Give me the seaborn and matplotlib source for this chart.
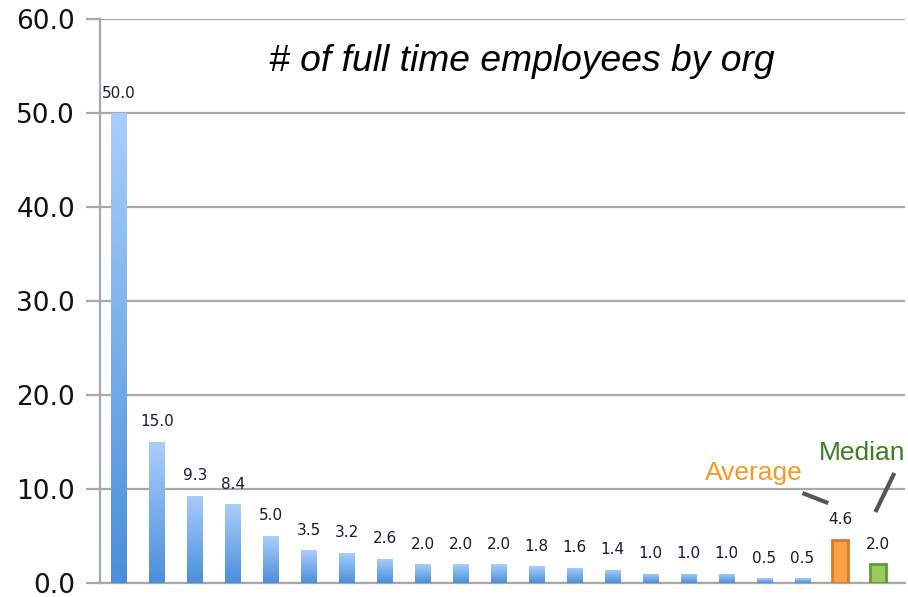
import numpy as np
import pandas as pd
import matplotlib
matplotlib.use("Agg")
import matplotlib.pyplot as plt
import seaborn as sns
from matplotlib.colors import LinearSegmentedColormap

# ---- data ----
orgs = [f"Org {i}" for i in range(1, 20)] + ["Average", "Median"]
employees = [50.0, 15.0, 9.3, 8.4, 5.0, 3.5, 3.2, 2.6, 2.0, 2.0, 2.0,
             1.8, 1.6, 1.4, 1.0, 1.0, 1.0, 0.5, 0.5, 4.6, 2.0]
yticks = [0, 10, 20, 30, 40, 50, 60]
title = "# of full time employees by org"

df = pd.DataFrame({"org": orgs, "employees": employees})

blue_top = "#a9cefb"
blue_bottom = "#4a8fdb"
avg_face, avg_edge = "#f9a040", "#d77a2c"
med_face, med_edge = "#9cc95c", "#5f9a36"

palette = {o: blue_bottom for o in orgs}
palette["Average"] = avg_face
palette["Median"] = med_face

sns.set_theme(style="white")
fig = plt.figure(figsize=(9.08, 5.97), dpi=100)
ax = fig.add_axes([100 / 908, 14 / 597, 805 / 908, 564 / 597])

sns.barplot(data=df, x="org", y="employees", hue="org", palette=palette,
            width=0.42, legend=False, ax=ax, saturation=1, zorder=3)

ax.set_ylim(0, 60)
ax.set_xlim(-0.5, len(orgs) - 0.3)

cmap = LinearSegmentedColormap.from_list("bl", [blue_bottom, blue_top])
grad = np.linspace(0, 1, 256).reshape(-1, 1)
for patch, org in zip(ax.patches, orgs):
    x0, y0 = patch.get_x(), patch.get_y()
    w, h = patch.get_width(), patch.get_height()
    if org == "Average":
        patch.set_edgecolor(avg_edge)
        patch.set_linewidth(2)
    elif org == "Median":
        patch.set_edgecolor(med_edge)
        patch.set_linewidth(2)
    else:
        patch.set_linewidth(0)
        im = ax.imshow(grad, cmap=cmap, origin="lower", aspect="auto",
                       extent=[x0, x0 + w, y0, y0 + h], zorder=4)
        im.set_clip_path(patch)
    ax.annotate(f"{h:.1f}", (x0 + w / 2, h), xytext=(0, 9),
                textcoords="offset points", ha="center", va="bottom",
                fontsize=11, color="#1a1a2a", zorder=6)

ax.set_xlim(-0.5, len(orgs) - 0.3)
ax.set_ylim(0, 60)

# grid and axes
ax.set_yticks(yticks)
ax.set_yticklabels([f"{v:.1f}" for v in yticks], fontsize=19, color="#111111")
ax.yaxis.grid(True, color="#a8a8a8", linewidth=1.6, zorder=0)
ax.set_axisbelow(True)
ax.tick_params(axis="y", length=10, width=1.6, color="#a8a8a8", pad=8, left=True)
ax.set_xticks([])
ax.set_xlabel("")
ax.set_ylabel("")
for s in ["top", "right"]:
    ax.spines[s].set_visible(False)
ax.spines["left"].set_color("#a8a8a8")
ax.spines["left"].set_linewidth(1.6)
ax.spines["bottom"].set_color("#a8a8a8")
ax.spines["bottom"].set_linewidth(1.6)

# title
ax.text(0.524, 0.925, title, transform=ax.transAxes, ha="center", va="center",
        fontsize=26.8, fontstyle="italic", family="Liberation Sans", color="black")

# Average / Median callouts
n = len(orgs)
ax.text(n - 4.27, 11.7, "Average", ha="center", va="center", fontsize=19,
        family="Liberation Sans", color="#f79a23")
ax.text(n - 1.42, 13.85, "Median", ha="center", va="center", fontsize=19,
        family="Liberation Sans", color="#3d7d23")
ax.plot([n - 3.0, n - 2.32], [9.57, 8.5], color="#555555", lw=3, zorder=5,
        solid_capstyle="butt")
ax.plot([n - 0.58, n - 1.08], [11.7, 7.55], color="#555555", lw=3, zorder=5,
        solid_capstyle="butt")

fig.savefig("out.png", dpi=100)
